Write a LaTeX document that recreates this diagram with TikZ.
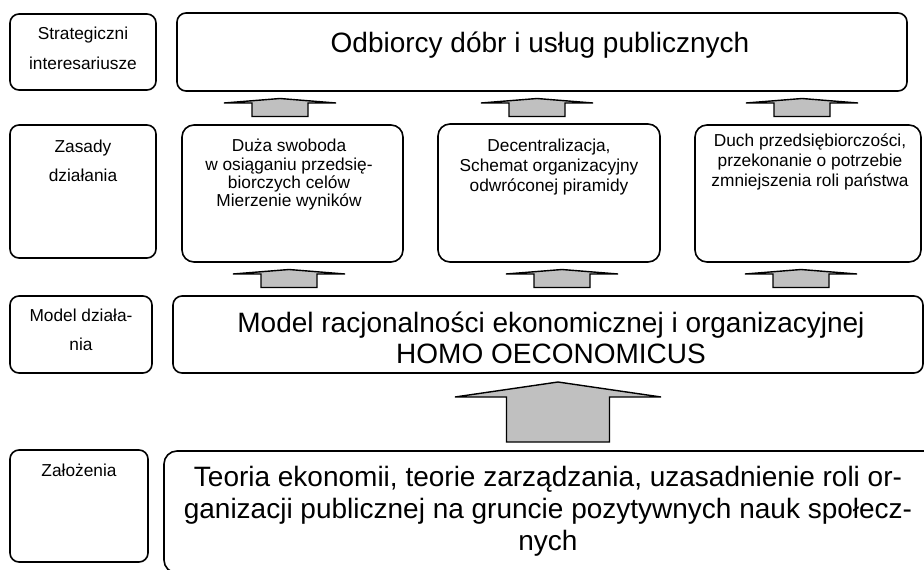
\documentclass[tikz,border=0pt]{standalone}
\usepackage{fontspec}
\setmainfont{Liberation Sans}
\definecolor{arrowgray}{HTML}{C0C0C0}
\newcommand\myLfont{\fontsize{17.3}{29.6}\selectfont}
\newcommand\myBfont{\fontsize{28}{31.7}\selectfont}
\newcommand\myDfont{\fontsize{28}{32}\selectfont}
\tikzset{
  box/.style={draw, line width=1.6pt, rounded corners=9pt, inner sep=0pt, outer sep=0pt},
  mbox/.style={box, rounded corners=12pt},
  blockarrow/.style={draw, fill=arrowgray, line width=1.4pt, line join=miter},
  txt/.style={inner sep=0pt, outer sep=0pt, align=center, anchor=north},
}
% block arrow: cx, apex y, base y, bottom y, head half width, shaft half width
\newcommand\myUpArrow[6]{%
  \draw[blockarrow] (#1-#6,#4) -- (#1-#6,#3) -- (#1-#5,#3) -- (#1,#2)
    -- (#1+#5,#3) -- (#1+#6,#3) -- (#1+#6,#4) -- cycle;}
\begin{document}
\begin{tikzpicture}[x=1pt,y=-1pt]
\useasboundingbox (0,0) rectangle (924,570);
\clip (0,0) rectangle (924,570);
\fill[white] (0,0) rectangle (924,570);
% left column
\node[box, minimum width=146pt, minimum height=76pt] (L1) at (83,52) {};
\node[box, minimum width=146pt, minimum height=133pt] (L2) at (83,191.5) {};
\node[box, minimum width=142pt, minimum height=77pt] (L3) at (81,334.5) {};
\node[box, minimum width=138pt, minimum height=112pt] (L4) at (79,506) {};
% right column
\node[box, minimum width=730pt, minimum height=78pt] (R1) at (542,52) {};
\node[mbox, minimum width=221pt, minimum height=137pt] (M1) at (292.5,193.5) {};
\node[mbox, minimum width=222pt, minimum height=138pt] (M2) at (549,193) {};
\node[mbox, minimum width=226pt, minimum height=137pt] (M3) at (808,193.5) {};
\node[box, minimum width=750pt, minimum height=77pt] (R3) at (548,334.5) {};
\node[mbox, rounded corners=13pt, minimum width=796pt, minimum height=122pt] (R4) at (562,512) {};
% left labels
\node[txt, font=\myLfont] (tL1) at (83,18.9) {\strut Strategiczni\\interesariusze};
\node[txt, font=\myLfont] (tL2) at (83,131.3) {\strut Zasady\\działania};
\node[txt, font=\myLfont] (tL3) at (81,300.6) {\strut Model działa-\\nia};
\node[txt, font=\myLfont] (tL4) at (79,455.3) {\strut Założenia};
% right texts
\node[inner sep=0pt, anchor=base, font=\myBfont] (tR1) at (540,52) {Odbiorcy dóbr i usług publicznych};
\node[txt, font=\fontsize{17.3}{18.3}\selectfont] (tM1) at (289,138.9) {\strut Duża swoboda\\w osiąganiu przedsię-\\biorczych celów\\Mierzenie wyników};
\node[txt, font=\fontsize{17.3}{19.8}\selectfont] (tM2) at (549,138.1) {\strut Decentralizacja,\\Schemat organizacyjny\\odwróconej piramidy};
\node[txt, font=\fontsize{17.3}{20}\selectfont] (tM3) at (810,132) {\strut Duch przedsiębiorczości,\\przekonanie o potrzebie\\zmniejszenia roli państwa};
\node[txt, font=\myBfont] (tR3) at (551,310.1) {\strut Model racjonalności ekonomicznej i organizacyjnej\\HOMO OECONOMICUS};
\node[txt, font=\myDfont] (tR4) at (548,464.3) {\strut Teoria ekonomii, teorie zarządzania, uzasadnienie roli or-\\ganizacji publicznej na gruncie pozytywnych nauk społecz-\\nych};
% arrows
\myUpArrow{280}{98.5}{103}{116.5}{56}{28}
\myUpArrow{537}{98.5}{103}{116.5}{56}{28}
\myUpArrow{802}{98.5}{103}{116.5}{56}{28}
\myUpArrow{289}{269.5}{274}{287.5}{56}{28}
\myUpArrow{562}{269.5}{274}{287.5}{56}{28}
\myUpArrow{801}{269.5}{274}{287.5}{56}{28}
\myUpArrow{558}{382}{397}{442}{103}{51.5}
\end{tikzpicture}
\end{document}
